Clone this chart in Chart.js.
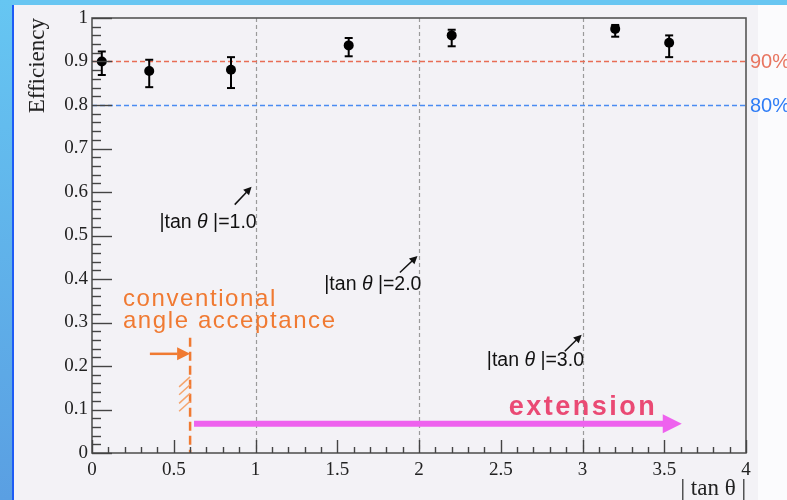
<!DOCTYPE html>
<html><head><meta charset="utf-8">
<script src="https://cdn.jsdelivr.net/npm/chart.js@4.4.1/dist/chart.umd.min.js"></script>
<style>
html,body{margin:0;padding:0;}
#wrap{position:relative;width:787px;height:500px;background:#f3f2f6;overflow:hidden;}
#top{position:absolute;left:0;top:0;width:787px;height:5px;background:#68c6f2;}
#left{position:absolute;left:0;top:0;width:12px;height:500px;background:linear-gradient(#66c6f2,#5a9fe2);}
#leftline{position:absolute;left:12px;top:5px;width:1.5px;height:495px;background:#1d5cf5;}
#right{position:absolute;left:758px;top:5px;width:29px;height:495px;background:#fbfbfd;}
canvas{position:absolute;left:0;top:0;}
</style></head>
<body><div id="wrap"><div id="top"></div><div id="left"></div><div id="leftline"></div><div id="right"></div><canvas id="c" width="787" height="500"></canvas></div>
<script>
// ---- data ----
const tanTheta   = [0.06, 0.35, 0.85, 1.57, 2.20, 3.20, 3.53];
const efficiency = [0.900, 0.878, 0.881, 0.937, 0.960, 0.975, 0.943];
const errUp      = [0.023, 0.026, 0.029, 0.017, 0.013, 0.009, 0.017];
const errDown    = [0.031, 0.037, 0.042, 0.025, 0.025, 0.018, 0.033];
const guideX     = [1, 2, 3];
const refLevels  = [0.9, 0.8];
const refLabels  = ['90%', '80%'];
const guideLabels = ['|tan θ |=1.0', '|tan θ |=2.0', '|tan θ |=3.0'];
const conventionalEdge = 0.6;
const extensionRange = [0.624, 3.607];

// ---- annotation anchors (data coordinates) ----
const guideText = [{x:1.007,y:0.518},{x:2.015,y:0.375},{x:3.009,y:0.199}];
const guideArrows = [
  {x1:0.873,y1:0.571,x2:0.976,y2:0.612},
  {x1:1.883,y1:0.415,x2:1.991,y2:0.453},
  {x1:2.892,y1:0.234,x2:2.995,y2:0.272}
];

function arrow(ctx,x1,y1,x2,y2,w,hl,hw,color){
  const ang=Math.atan2(y2-y1,x2-x1);
  const bx=x2-hl*Math.cos(ang), by=y2-hl*Math.sin(ang);
  ctx.strokeStyle=color; ctx.fillStyle=color; ctx.lineWidth=w; ctx.setLineDash([]);
  ctx.beginPath(); ctx.moveTo(x1,y1); ctx.lineTo(bx+0.5*Math.cos(ang),by+0.5*Math.sin(ang)); ctx.stroke();
  ctx.beginPath(); ctx.moveTo(x2,y2);
  ctx.lineTo(bx+hw*Math.sin(ang), by-hw*Math.cos(ang));
  ctx.lineTo(bx-hw*Math.sin(ang), by+hw*Math.cos(ang));
  ctx.closePath(); ctx.fill();
}
function seg(ctx,x1,y1,x2,y2){ctx.beginPath();ctx.moveTo(x1,y1);ctx.lineTo(x2,y2);ctx.stroke();}
const fmt = v => String(Number(Number(v).toFixed(2)));

const deco = {
  id:'deco',
  beforeDatasetsDraw(chart){
    const {ctx, chartArea:a, scales:{x,y}} = chart;
    ctx.save();
    ctx.strokeStyle='#9a9a9a'; ctx.lineWidth=1.2; ctx.setLineDash([4,3]);
    guideX.forEach(v=>{const px=Math.round(x.getPixelForValue(v))+0.5; seg(ctx,px,a.top,px,a.bottom);});
    const refColors=['#e86d55','#4a8cf2'];
    ctx.lineWidth=1.3; ctx.setLineDash([5,3]);
    refLevels.forEach((v,i)=>{const py=Math.round(y.getPixelForValue(v))+0.5; ctx.strokeStyle=refColors[i]; seg(ctx,a.left,py,a.right,py);});
    const ex=x.getPixelForValue(conventionalEdge);
    ctx.strokeStyle='#f07a32'; ctx.lineWidth=2.5; ctx.setLineDash([9,5]);
    seg(ctx,ex,y.getPixelForValue(0.265),ex,a.bottom);
    ctx.setLineDash([]);
    ctx.strokeStyle='#f5a46c'; ctx.lineWidth=1.5;
    [0.175,0.157,0.137,0.119].forEach(v=>{const py=y.getPixelForValue(v); seg(ctx,ex,py,ex-11,py+10);});
    arrow(ctx,x.getPixelForValue(0.354),y.getPixelForValue(0.228),ex,y.getPixelForValue(0.228),2.5,13,6.5,'#f07a32');
    arrow(ctx,x.getPixelForValue(extensionRange[0]),y.getPixelForValue(0.067),x.getPixelForValue(extensionRange[1]),y.getPixelForValue(0.067),6,19,9.5,'#ee62ee');
    ctx.strokeStyle='#000'; ctx.lineWidth=2;
    tanTheta.forEach((t,i)=>{
      const px=x.getPixelForValue(t);
      const pt=y.getPixelForValue(efficiency[i]+errUp[i]);
      const pb=y.getPixelForValue(efficiency[i]-errDown[i]);
      seg(ctx,px,pt,px,pb);
      seg(ctx,px-4,pt,px+4,pt);
      seg(ctx,px-4,pb,px+4,pb);
    });
    ctx.restore();
  },
  afterDatasetsDraw(chart){
    const {ctx, chartArea:a, scales:{x,y}} = chart;
    ctx.save();
    ctx.strokeStyle='#555'; ctx.lineWidth=1.6; ctx.setLineDash([]);
    ctx.strokeRect(a.left,a.top,a.right-a.left,a.bottom-a.top);
    ctx.strokeStyle='#444'; ctx.lineWidth=1.4;
    y.ticks.forEach(t=>{const py=Math.round(y.getPixelForValue(t.value))+0.5; seg(ctx,a.left,py,a.left+20,py);});
    for(let k=0;k<=50;k++){ if(k%5===0) continue; const py=Math.round(y.getPixelForValue(k*0.02))+0.5; seg(ctx,a.left,py,a.left+9,py);}
    x.ticks.forEach(t=>{const px=Math.round(x.getPixelForValue(t.value))+0.5; seg(ctx,px,a.bottom,px,a.bottom-13);});
    for(let k=0;k<=40;k++){ if(k%5===0) continue; const px=Math.round(x.getPixelForValue(k*0.1))+0.5; seg(ctx,px,a.bottom,px,a.bottom-6);}
    ctx.font='20px "Liberation Sans", Arial, sans-serif'; ctx.textAlign='left'; ctx.textBaseline='alphabetic';
    const refTextColors=['#e87560','#2e7cf6'];
    refLevels.forEach((v,i)=>{ctx.fillStyle=refTextColors[i]; ctx.fillText(refLabels[i],a.right+4,y.getPixelForValue(v)+6.5);});
    guideLabels.forEach((lab,i)=>{
      const m=lab.match(/^(.*?)(θ)(.*)$/);
      const fn='19.5px "Liberation Sans", Arial, sans-serif', fi='italic 19.5px "Liberation Sans", Arial, sans-serif';
      ctx.letterSpacing='0px';
      ctx.font=fn; const w1=ctx.measureText(m[1]).width, w3=ctx.measureText(m[3]).width;
      ctx.font=fi; const w2=ctx.measureText(m[2]).width;
      let sx=x.getPixelForValue(guideText[i].x)-(w1+w2+w3);
      const by=y.getPixelForValue(guideText[i].y);
      ctx.fillStyle='#111';
      ctx.font=fn; ctx.fillText(m[1],sx,by);
      ctx.font=fi; ctx.fillText(m[2],sx+w1,by);
      ctx.font=fn; ctx.fillText(m[3],sx+w1+w2,by);
      const ar=guideArrows[i];
      arrow(ctx,x.getPixelForValue(ar.x1),y.getPixelForValue(ar.y1),x.getPixelForValue(ar.x2),y.getPixelForValue(ar.y2),1.5,8,4,'#111');
    });
    ctx.letterSpacing='1.6px';
    ctx.font='24px "Liberation Sans", Arial, sans-serif'; ctx.fillStyle='#f07a32';
    ctx.fillText('conventional',x.getPixelForValue(0.189),y.getPixelForValue(0.337));
    ctx.fillText('angle acceptance',x.getPixelForValue(0.189),y.getPixelForValue(0.287));
    ctx.letterSpacing='2.5px';
    ctx.font='bold 27px "Liberation Sans", Arial, sans-serif'; ctx.fillStyle='#ea4a74';
    ctx.fillText('extension',x.getPixelForValue(2.549),y.getPixelForValue(0.088));
    ctx.restore();
  }
};

new Chart(document.getElementById('c'),{
  type:'scatter',
  data:{datasets:[{
    data:tanTheta.map((t,i)=>({x:t,y:efficiency[i]})),
    pointRadius:5, pointHoverRadius:5, backgroundColor:'#000', borderColor:'#000', borderWidth:0, showLine:false
  }]},
  options:{
    responsive:false, animation:false, devicePixelRatio:1,
    layout:{padding:{top:18,right:41,left:0,bottom:0}},
    plugins:{legend:{display:false},tooltip:{enabled:false}},
    scales:{
      x:{type:'linear',min:0,max:4,
        grid:{display:false,drawTicks:false}, border:{display:false},
        ticks:{stepSize:0.5,autoSkip:false,maxRotation:0,padding:6,color:'#222',callback:fmt,font:{family:'"Liberation Serif", "Times New Roman", serif',size:19}},
        title:{display:true,text:'| tan θ |',align:'end',color:'#222',padding:0,font:{family:'"Liberation Serif", "Times New Roman", serif',size:23,lineHeight:1}},
        afterFit(s){s.height=47;}
      },
      y:{type:'linear',min:0,max:1,
        grid:{display:false,drawTicks:false}, border:{display:false},
        ticks:{stepSize:0.1,autoSkip:false,padding:4,color:'#222',callback:fmt,font:{family:'"Liberation Serif", "Times New Roman", serif',size:19}},
        title:{display:true,text:'Efficiency',align:'end',color:'#222',padding:{top:24,bottom:0},font:{family:'"Liberation Serif", "Times New Roman", serif',size:23}},
        afterFit(s){s.width=92;}
      }
    }
  },
  plugins:[deco]
});
</script>
</body></html>
